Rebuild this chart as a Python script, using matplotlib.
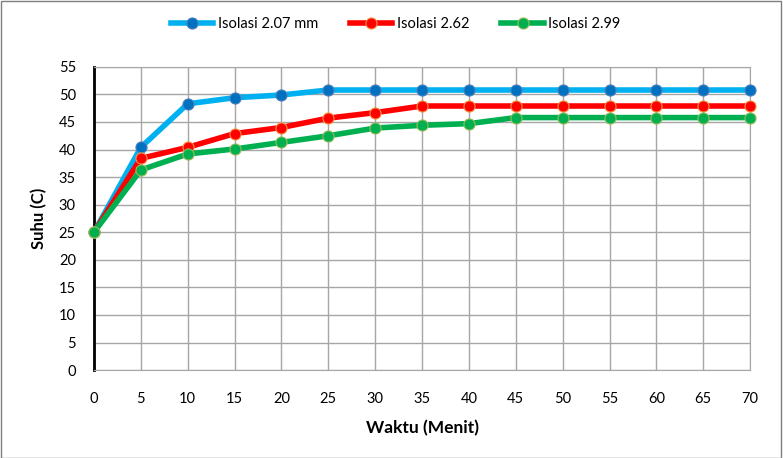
import matplotlib
matplotlib.use("Agg")
import matplotlib.pyplot as plt

plt.rcParams['font.family'] = ['Lato', 'DejaVu Sans']

waktu = [0, 5, 10, 15, 20, 25, 30, 35, 40, 45, 50, 55, 60, 65, 70]
iso_207 = [25, 40.4, 48.3, 49.4, 49.9, 50.8, 50.8, 50.8, 50.8, 50.8, 50.8, 50.8, 50.8, 50.8, 50.8]
iso_262 = [25, 38.4, 40.4, 42.9, 44.0, 45.7, 46.7, 47.9, 47.9, 47.9, 47.9, 47.9, 47.9, 47.9, 47.9]
iso_299 = [25, 36.3, 39.2, 40.1, 41.3, 42.5, 43.9, 44.4, 44.7, 45.8, 45.8, 45.8, 45.8, 45.8, 45.8]

fig = plt.figure(figsize=(7.83, 4.58), dpi=100)
ax = fig.add_axes([0.12, 0.192, 0.838, 0.662])

ax.plot(waktu, iso_207, color='#00B0F0', lw=4, marker='o', ms=8,
        mfc='#0070C0', mec='#4F81BD', mew=0.8, label='Isolasi 2.07 mm', zorder=3, clip_on=False)
ax.plot(waktu, iso_262, color='#FF0000', lw=4, marker='o', ms=8,
        mfc='#FF0000', mec='#F79646', mew=0.8, label='Isolasi 2.62', zorder=3, clip_on=False)
ax.plot(waktu, iso_299, color='#00B050', lw=4, marker='o', ms=8,
        mfc='#00B050', mec='#9BBB59', mew=0.8, label='Isolasi 2.99', zorder=3, clip_on=False)

ax.set_xlim(0, 70)
ax.set_ylim(0, 55)
ax.set_xticks(range(0, 71, 5))
ax.set_yticks(range(0, 56, 5))
ax.grid(True, color='#A6A6A6', lw=1)
ax.set_axisbelow(True)
ax.tick_params(axis='x', length=0, labelsize=10.5, pad=16)
ax.tick_params(axis='y', length=0, labelsize=10.5, pad=13)
for s in ['top', 'right', 'bottom']:
    ax.spines[s].set_color('#A6A6A6')
ax.spines['left'].set_color('black')
ax.spines['left'].set_linewidth(2)

ax.set_xlabel('Waktu (Menit)', fontsize=12.5, fontweight='bold', labelpad=10)
ax.set_ylabel('Suhu (C)', fontsize=12, fontweight='bold', labelpad=8)

ax.legend(loc='center', bbox_to_anchor=(0.46, 1.14), ncol=3, frameon=False,
          fontsize=10.5, handlelength=2.9, columnspacing=2.2, handletextpad=0.3)

fig.patches.append(plt.Rectangle((0.001, 0.001), 0.997, 0.997, transform=fig.transFigure,
                                 fill=False, edgecolor='#7F7F7F', lw=1))

fig.savefig('out.png', dpi=100)
